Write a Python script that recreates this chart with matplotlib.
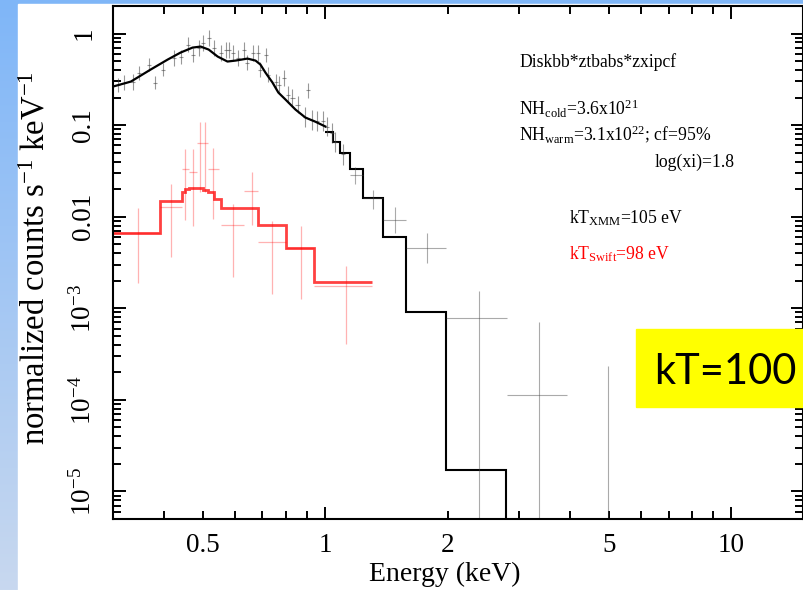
import matplotlib.pyplot as plt
import numpy as np
from matplotlib.patches import Rectangle
from matplotlib.colors import LinearSegmentedColormap
from matplotlib.ticker import LogLocator, NullFormatter

plt.rcParams['font.family'] = 'Liberation Serif'
plt.rcParams['mathtext.fontset'] = 'custom'
plt.rcParams['mathtext.rm'] = 'Liberation Serif'
plt.rcParams['mathtext.it'] = 'Liberation Serif:italic'

# XMM model (black), finely binned part below 1 keV
xmm_model_E = [0.30, 0.332, 0.3715, 0.409, 0.440, 0.471, 0.493, 0.516, 0.543, 0.574,
               0.601, 0.643, 0.673, 0.692, 0.712, 0.741, 0.766, 0.798, 0.844, 0.893,
               0.945, 1.0]
xmm_model_y = [0.264, 0.299, 0.405, 0.520, 0.620, 0.703, 0.721, 0.669, 0.561, 0.495,
               0.507, 0.533, 0.507, 0.459, 0.375, 0.292, 0.227, 0.190, 0.148, 0.121,
               0.109, 0.0966]
# XMM model, coarse bins above 1 keV
xmm_step_edges = [1.0, 1.046, 1.089, 1.152, 1.240, 1.388, 1.581, 1.982, 2.785, 4.0]
xmm_step_vals = [0.0851, 0.0662, 0.0502, 0.0336, 0.0162, 0.00593, 9.0e-4, 1.70e-5, 1e-7]

# XMM data, fine bins (error half-width given in dex)
xmm_E = [0.308, 0.319, 0.336, 0.347, 0.367, 0.380, 0.398, 0.423, 0.440, 0.458,
         0.471, 0.488, 0.501, 0.516, 0.531, 0.552, 0.568, 0.578, 0.591, 0.611,
         0.629, 0.643, 0.662, 0.681, 0.692, 0.716, 0.724, 0.754, 0.767, 0.789,
         0.807, 0.830, 0.854, 0.893, 0.908, 0.929, 0.956, 0.989, 1.011, 1.040,
         1.058, 1.107]
xmm_y = [0.277, 0.292, 0.299, 0.375, 0.459, 0.292, 0.405, 0.547, 0.561, 0.759,
         0.590, 0.703, 0.798, 0.904, 0.703, 0.620, 0.669, 0.669, 0.620, 0.547,
         0.669, 0.483, 0.620, 0.620, 0.405, 0.590, 0.357, 0.299, 0.277, 0.331,
         0.216, 0.200, 0.168, 0.124, 0.239, 0.115, 0.110, 0.110, 0.0966, 0.0830,
         0.0662, 0.0478]
xmm_err_dex = [0.076, 0.087, 0.087, 0.076, 0.066, 0.066, 0.076, 0.087, 0.076, 0.087,
               0.076, 0.087, 0.087, 0.087, 0.087, 0.087, 0.087, 0.087, 0.087, 0.087,
               0.087, 0.087, 0.087, 0.087, 0.087, 0.076, 0.087, 0.087, 0.098, 0.087,
               0.098, 0.098, 0.098, 0.109, 0.087, 0.109, 0.109, 0.109, 0.109, 0.109,
               0.109, 0.120]
xmm_halfbin_dex = 0.005

# XMM data, wide bins at high energy
xmm_wide_E = [1.185, 1.312, 1.486, 1.781, 2.390, 3.356, 4.96]
xmm_wide_Elo = [1.152, 1.240, 1.388, 1.581, 1.982, 2.797, 4.96]
xmm_wide_Ehi = [1.240, 1.388, 1.581, 1.982, 2.797, 3.932, 4.96]
xmm_wide_y = [0.0289, 0.0162, 0.00932, 0.00461, 7.93e-4, 1.12e-4, 1e-7]
xmm_wide_ylo = [0.0225, 0.0120, 0.00672, 0.00316, 1e-8, 1e-8, 1e-8]
xmm_wide_yhi = [0.0353, 0.0198, 0.0129, 0.00672, 1.56e-3, 7.0e-4, 2.32e-4]

# Swift model (red)
swift_edges = [0.30, 0.391, 0.443, 0.450, 0.461, 0.501, 0.513, 0.531, 0.552, 0.681,
               0.802, 0.940, 1.305]
swift_vals = [0.00672, 0.0150, 0.0188, 0.0203, 0.0208, 0.0198, 0.0184, 0.0158, 0.0126,
              0.00802, 0.00450, 0.00196]

# Swift data
swift_E = [0.345, 0.416, 0.450, 0.471, 0.490, 0.504, 0.528, 0.591, 0.658, 0.741, 0.873, 1.126]
swift_Elo = [0.301, 0.391, 0.443, 0.461, 0.482, 0.499, 0.513, 0.552, 0.629, 0.681, 0.802, 0.940]
swift_Ehi = [0.391, 0.443, 0.461, 0.482, 0.499, 0.513, 0.546, 0.629, 0.681, 0.802, 0.940, 1.305]
swift_y = [0.00672, 0.0129, 0.0328, 0.0311, 0.0646, 0.0646, 0.0328, 0.00802, 0.0193,
           0.00523, 0.0045, 0.00173]
swift_ylo = [0.00191, 0.00359, 0.00932, 0.00782, 0.0184, 0.0184, 0.00956, 0.00217,
             0.00822, 0.00142, 0.00125, 4.03e-4]
swift_yhi = [0.0126, 0.0225, 0.0555, 0.0542, 0.1095, 0.1095, 0.0569, 0.0136, 0.0304,
             0.00887, 0.00782, 0.00293]

x_minor = [0.4, 0.5, 0.6, 0.7, 0.8, 0.9, 2, 3, 4, 5, 6, 7, 8, 9]
x_minor_labels = ['', '0.5', '', '', '', '', '2', '', '', '5', '', '', '', '']
y_major = [1e-5, 1e-4, 1e-3, 0.01, 0.1, 1]
y_labels = ['10$^{-5}$', '10$^{-4}$', '10$^{-3}$', '0.01', '0.1', '1']

fig = plt.figure(figsize=(8.04, 5.90), dpi=100)

# slide background
bg = fig.add_axes([0, 0, 1, 1], zorder=-10)
cmap = LinearSegmentedColormap.from_list('slide', ['#7fb6f8', '#c8d8ef'])
bg.imshow(np.linspace(0, 1, 256).reshape(-1, 1), aspect='auto', cmap=cmap,
          extent=[0, 1, 0, 1])
bg.add_patch(Rectangle((18 / 804, 0), 1, 1 - 4 / 590, color='white'))
bg.set_xlim(0, 1)
bg.set_ylim(0, 1)
bg.axis('off')

ax = fig.add_axes([113 / 804, 1 - 519 / 590, 690 / 804, 513 / 590])
ax.set_xscale('log')
ax.set_yscale('log')

# data
E = np.array(xmm_E)
y = np.array(xmm_y)
d = np.array(xmm_err_dex)
ax.errorbar(E, y, xerr=[E - E / 10**xmm_halfbin_dex, E * 10**xmm_halfbin_dex - E],
            yerr=[y - y / 10**d, y * 10**d - y], fmt='none', ecolor='#444444',
            elinewidth=0.8, alpha=0.55, capsize=0)
Ew = np.array(xmm_wide_E)
yw = np.array(xmm_wide_y)
ax.errorbar(Ew, yw, xerr=[Ew - np.array(xmm_wide_Elo), np.array(xmm_wide_Ehi) - Ew],
            yerr=[yw - np.array(xmm_wide_ylo), np.array(xmm_wide_yhi) - yw],
            fmt='none', ecolor='#444444', elinewidth=0.8, alpha=0.45, capsize=0)
Es = np.array(swift_E)
ys = np.array(swift_y)
ax.errorbar(Es, ys, xerr=[Es - np.array(swift_Elo), np.array(swift_Ehi) - Es],
            yerr=[ys - np.array(swift_ylo), np.array(swift_yhi) - ys],
            fmt='none', ecolor='#ff0000', elinewidth=0.9, alpha=0.3, capsize=0)

# models
ax.plot(xmm_model_E, xmm_model_y, color='black', lw=1.6)
ax.stairs(xmm_step_vals, xmm_step_edges, baseline=None, color='black', lw=1.5)
ax.stairs(swift_vals, swift_edges, baseline=None, color='#ff2020', lw=2.0, alpha=0.85)

ax.set_xlim(0.3, 15)
ax.set_ylim(5e-6, 2)
ax.set_xticks([1, 10], labels=['1', '10'])
ax.set_xticks(x_minor, labels=x_minor_labels, minor=True)
ax.set_yticks(y_major, labels=y_labels)
ax.yaxis.set_minor_locator(LogLocator(base=10, subs=np.arange(2, 10)))
ax.yaxis.set_minor_formatter(NullFormatter())
ax.tick_params(which='both', direction='in', top=True, right=True, width=1.4,
               labelsize=19.5)
ax.tick_params(which='major', length=9)
ax.tick_params(which='minor', length=5.5)
ax.tick_params(axis='x', which='both', pad=10)
ax.tick_params(axis='y', which='both', pad=12)
for lbl in ax.get_yticklabels():
    lbl.set_rotation(90)
    lbl.set_va('center')
for s in ax.spines.values():
    s.set_linewidth(1.5)

fig.text(36 / 804, 1 - 258 / 590, 'normalized counts s$^{-1}$ keV$^{-1}$',
         rotation=90, ha='center', va='center', fontsize=23.5)
fig.text(445 / 804, 1 - 581 / 590, 'Energy (keV)', ha='center', va='baseline',
         fontsize=20)

# annotations
fs = 12.7
fig.text(519 / 804, 1 - 67 / 590, 'Diskbb*ztbabs*zxipcf', fontsize=fs, va='baseline')
fig.text(519 / 804, 1 - 115 / 590, r'NH$_{\rm cold}$=3.6x10$^{21}$', fontsize=fs,
         va='baseline')
fig.text(519 / 804, 1 - 140 / 590, r'NH$_{\rm warm}$=3.1x10$^{22}$; cf=95%',
         fontsize=fs, va='baseline')
fig.text(655 / 804, 1 - 167 / 590, 'log(xi)=1.8', fontsize=fs, va='baseline')
fig.text(569 / 804, 1 - 223 / 590, r'kT$_{\rm XMM}$=105 eV', fontsize=fs, va='baseline')
fig.text(569 / 804, 1 - 259 / 590, r'kT$_{\rm Swift}$=98 eV', fontsize=fs,
         va='baseline', color='#ff0000')

# highlight box
fig.add_artist(Rectangle((636 / 804, 1 - 407 / 590), 168 / 804, 78 / 590,
                         transform=fig.transFigure, color='#ffff00', zorder=5))
fig.text(797 / 804, 1 - 384 / 590, 'kT=100', ha='right', va='baseline', fontsize=30,
         family='Lato', zorder=6)

fig.savefig('out.png', dpi=100)
